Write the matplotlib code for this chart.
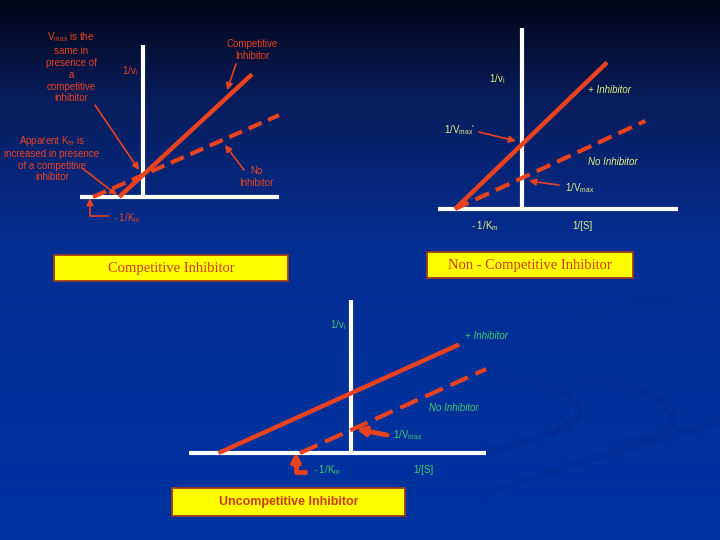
import numpy as np
import matplotlib
matplotlib.use("Agg")
import matplotlib.pyplot as plt
from matplotlib.transforms import Affine2D
from matplotlib.patches import Rectangle, PathPatch
from matplotlib.path import Path

plt.rcParams['font.family'] = ['Liberation Sans', 'DejaVu Sans']
plt.rcParams['mathtext.fontset'] = 'custom'
plt.rcParams['mathtext.rm'] = 'Liberation Sans'
plt.rcParams['mathtext.it'] = 'Liberation Sans:italic'

# Lineweaver-Burk parameters, order: [no inhibitor, + inhibitor]
comp_km = [1.0, 2.1]
comp_vmax = [1.0, 1.0]
comp_xend = [2.72, 2.18]
comp_xaxis = [-1.26, 2.72]
comp_yaxis = [0, 6.9]

noncomp_km = [1.0, 1.0]
noncomp_vmax = [1.0, 0.48]
noncomp_xend = [1.84, 1.27]
noncomp_xaxis = [-1.25, 2.33]
noncomp_yaxis = [0, 5.85]

uncomp_km = [1.0, 0.385]
uncomp_vmax = [1.0, 0.385]
uncomp_xend = [2.65, 2.12]
uncomp_xaxis = [-3.18, 2.65]
uncomp_yaxis = [0, 6.65]

titles = ["Competitive Inhibitor", "Non - Competitive Inhibitor",
          "Uncompetitive Inhibitor"]

RED = '#e8421e'
YEL = '#e2f07c'
GRN = '#3fc868'

fig = plt.figure(figsize=(7.2, 5.4), dpi=100)
ax = fig.add_axes([0, 0, 1, 1])
ax.set_xlim(0, 720)
ax.set_ylim(540, 0)
ax.axis('off')

# slide background: near black at the top fading to blue
t = np.linspace(0, 1, 300)
stops = [0, 0.18, 0.45, 1]
cols = np.array([[1, 6, 22], [8, 28, 90], [4, 46, 146], [0, 51, 162]]) / 255
grad = np.stack([np.interp(t, stops, cols[:, c]) for c in range(3)], axis=-1)
ax.imshow(grad[:, None, :], extent=(0, 720, 540, 0), aspect='auto', zorder=0)

# faint swirls of the slide template, lower right
swirls = [
    [(563, 335), (585, 297), (720, 296)],
    [(487, 373), (600, 392), (575, 420), (545, 440), (480, 453)],
    [(580, 377), (680, 392), (672, 425), (660, 440), (623, 442)],
    [(480, 495), (600, 455), (720, 422)],
]
for pts in swirls:
    codes = [Path.MOVETO] + [Path.CURVE3] * (len(pts) - 1)
    ax.add_patch(PathPatch(Path(pts, codes), fill=False, edgecolor='#002a8c',
                           lw=5, alpha=0.35, zorder=1))


def draw_panel(origin, unit, km, vmax, xend, xaxis, yaxis, dash):
    tr = Affine2D().scale(unit[0], -unit[1]).translate(*origin) + ax.transData
    ax.plot(xaxis, [0, 0], color='white', lw=3, transform=tr,
            solid_capstyle='butt', zorder=2)
    ax.plot([0, 0], yaxis, color='white', lw=3, transform=tr,
            solid_capstyle='butt', zorder=2)
    for i in range(2):
        x = np.array([-1 / km[i], xend[i]])
        y = km[i] / vmax[i] * x + 1 / vmax[i]
        if i == 0:
            ax.plot(x, y, color=RED, lw=3, dashes=dash, transform=tr, zorder=3)
        else:
            ax.plot(x, y, color=RED, lw=3.2, transform=tr,
                    solid_capstyle='butt', zorder=3)


draw_panel((143, 197), (50, 22), comp_km, comp_vmax, comp_xend,
           comp_xaxis, comp_yaxis, (3.4, 1.7))
draw_panel((522, 209), (67, 31), noncomp_km, noncomp_vmax, noncomp_xend,
           noncomp_xaxis, noncomp_yaxis, (3.6, 1.8))
draw_panel((351, 453), (51, 23), uncomp_km, uncomp_vmax, uncomp_xend,
           uncomp_xaxis, uncomp_yaxis, (4.6, 2.0))


def arrow(x0, y0, x1, y1, lw=1.2, head=5):
    ax.annotate('', xy=(x1, y1), xytext=(x0, y0),
                arrowprops=dict(arrowstyle='-|>', color=RED, lw=lw,
                                mutation_scale=head * 2, shrinkA=0, shrinkB=0),
                zorder=4)


small = 7

# ---- competitive panel
ax.text(71, 67, "V$_{\\rm max}$ is the\nsame in\npresence of\na\ncompetitive\ninhibitor",
        color=RED, fontsize=small, ha='center', va='center', linespacing=1.22)
ax.text(52, 158, "Apparent K$_{\\rm m}$ is\nincreased in presence\nof a competitive\ninhibitor",
        color=RED, fontsize=small, ha='center', va='center', linespacing=1.16)
ax.text(122, 71, "1/v$_{\\rm i}$", color=RED, fontsize=small, va='center')
ax.text(252, 50, "Competitive\nInhibitor", color=RED, fontsize=small,
        ha='center', va='center', linespacing=1.2)
ax.text(256, 177, "No\nInhibitor", color=RED, fontsize=small,
        ha='center', va='center', linespacing=1.2)
ax.text(113, 218, "- 1/K$_{\\rm m}$", color=RED, fontsize=small, va='center')
arrow(95, 105, 139, 170)
arrow(82, 168, 117, 195)
arrow(236, 64, 227, 90)
arrow(244, 170, 225, 145)
ax.plot([90, 90, 108], [205, 216, 216], color=RED, lw=1.2, zorder=4)
arrow(90, 206, 90, 198)

# ---- non-competitive panel
ax.text(489, 79, "1/v$_{\\rm i}$", color=YEL, fontsize=small, va='center')
ax.text(588, 90, "+ Inhibitor", color=YEL, fontsize=small, va='center', style='italic')
ax.text(444, 130, "1/V$_{\\rm max}$'", color=YEL, fontsize=small, va='center')
ax.text(588, 162, "No Inhibitor", color=YEL, fontsize=small, va='center', style='italic')
ax.text(565, 188, "1/V$_{\\rm max}$", color=YEL, fontsize=small, va='center')
ax.text(471, 226, "- 1/K$_{\\rm m}$", color=YEL, fontsize=small, va='center')
ax.text(572, 226, "1/[S]", color=YEL, fontsize=small, va='center')
arrow(479, 132, 516, 141)
arrow(559, 185, 529, 181)

# ---- uncompetitive panel
ax.text(330, 325, "1/v$_{\\rm i}$", color=GRN, fontsize=small, va='center')
ax.text(465, 336, "+ Inhibitor", color=GRN, fontsize=small, va='center', style='italic')
ax.text(429, 408, "No Inhibitor", color=GRN, fontsize=small, va='center', style='italic')
ax.text(393, 435, "1/V$_{\\rm max}$", color=GRN, fontsize=small, va='center')
ax.text(313, 470, "- 1/K$_{\\rm m}$", color=GRN, fontsize=small, va='center')
ax.text(413, 470, "1/[S]", color=GRN, fontsize=small, va='center')
arrow(387, 435, 356, 429, lw=3.5, head=6)
ax.plot([296, 296, 307], [464, 472, 472], color=RED, lw=3.5, zorder=4,
        solid_capstyle='butt')
arrow(296, 466, 296, 452, lw=3.5, head=6)

# ---- title boxes
boxes = [(54, 255, 234, 26), (427, 252, 206, 26), (172, 488, 233, 28)]
fonts = [dict(family=['Liberation Serif'], fontsize=10.5),
         dict(family=['Liberation Serif'], fontsize=10.5),
         dict(family=['Liberation Sans'], fontsize=9, weight='bold')]
for (x, y, w, h), title, fnt in zip(boxes, titles, fonts):
    ax.add_patch(Rectangle((x, y), w, h, facecolor='#ffff00',
                           edgecolor='#9c3a1e', lw=1.3, zorder=5))
    ax.text(x + w / 2, y + h / 2 + 0.5, title, color='#cc3a10', ha='center',
            va='center', zorder=6, **fnt)

fig.savefig("out.png", dpi=100)
